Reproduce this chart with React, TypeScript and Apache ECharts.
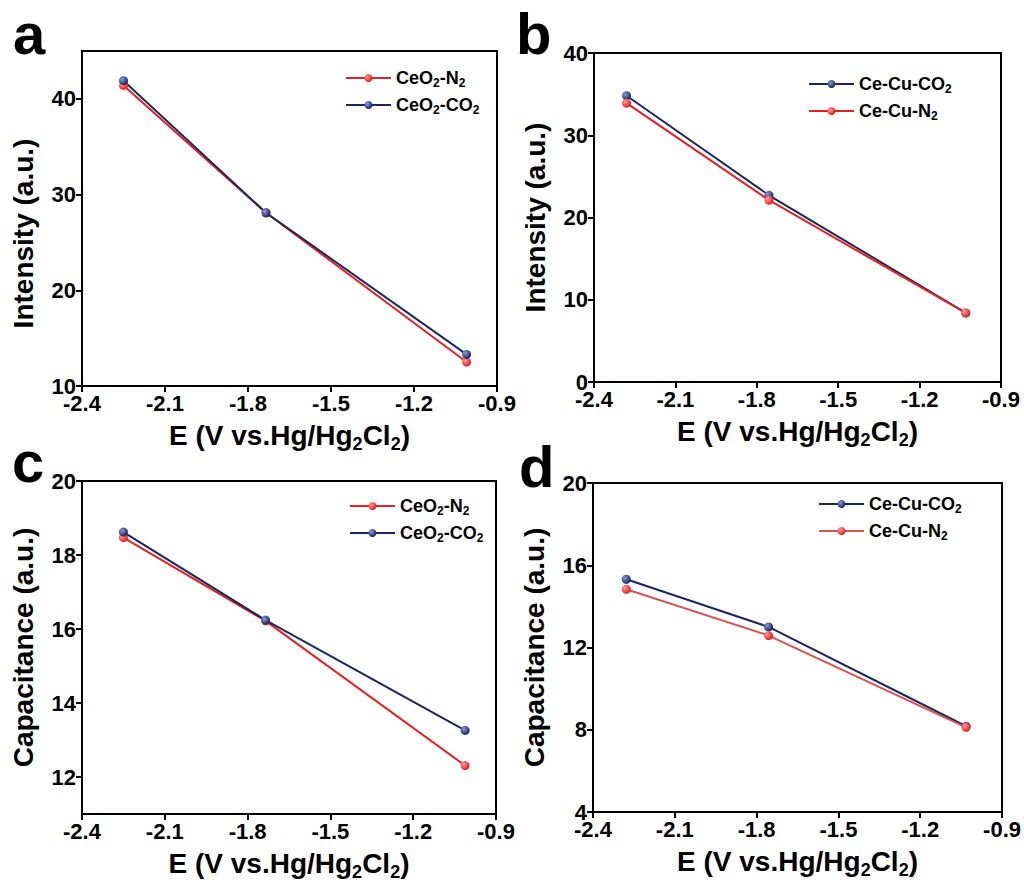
import React, { useEffect, useRef } from "react";
import * as echarts from "echarts";

// ---- data ----
const xTicks = [-2.4, -2.1, -1.8, -1.5, -1.2, -0.9];

const xA = [-2.25, -1.735, -1.01];
const aN2 = [41.4, 28.1, 12.5];
const aCO2 = [41.9, 28.1, 13.3];

const xB = [-2.28, -1.755, -1.03];
const bCO2 = [34.8, 22.7, 8.4];
const bN2 = [33.9, 22.1, 8.4];

const xC = [-2.25, -1.735, -1.012];
const cN2 = [18.47, 16.22, 12.31];
const cCO2 = [18.62, 16.24, 13.26];

const xD = [-2.278, -1.756, -1.032];
const dCO2 = [15.32, 13.0, 8.17];
const dN2 = [14.83, 12.58, 8.12];

const yTicksA = [10, 20, 30, 40];
const yTicksB = [0, 10, 20, 30, 40];
const yTicksC = [12, 14, 16, 18, 20];
const yTicksD = [4, 8, 12, 16, 20];

const panelLetters = ["a", "b", "c", "d"];
const xTitle = "E (V vs.Hg/Hg{s|2}Cl{s|2})";
const yTitleTop = "Intensity (a.u.)";
const yTitleBottom = "Capacitance (a.u.)";

const RED = "#e3211f";
const RED_LIGHT = "#d8524f";
const NAVY = "#1a2660";
const FONT = "'Liberation Sans', Arial, sans-serif";

function sphere(base: string, light: string) {
  return new echarts.graphic.RadialGradient(0.35, 0.35, 0.65, [
    { offset: 0, color: light },
    { offset: 1, color: base },
  ]);
}

function pairs(xs: number[], ys: number[]) {
  return xs.map((x, i) => [x, ys[i]]);
}

function sub(name: string) {
  return name.replace(/([A-Za-z])2/g, "$1{s|2}");
}

export default function App() {
  const ref = useRef<HTMLDivElement>(null);
  useEffect(() => {
    if (!ref.current) return;
    const chart = echarts.init(ref.current, null, { renderer: "svg" });

    const grids = [
      { left: 82, top: 51, width: 415, height: 335 },
      { left: 594, top: 53, width: 407, height: 329 },
      { left: 82, top: 481, width: 414, height: 333 },
      { left: 593, top: 483, width: 410, height: 329 },
    ];

    const yCfg = [
      { min: 10, max: 45, ticks: yTicksA, name: yTitleTop, pad: [0, 30, 0, 0] },
      { min: 0, max: 40, ticks: yTicksB, name: yTitleTop, pad: [0, 0, 0, 0] },
      { min: 11, max: 20, ticks: yTicksC, name: yTitleBottom, pad: [0, 0, 0, 0] },
      { min: 4, max: 20, ticks: yTicksD, name: yTitleBottom, pad: [0, 0, 0, 0] },
    ];

    const axisLine = { show: true, lineStyle: { color: "#000", width: 2 } };
    const axisTick = {
      show: true,
      inside: false,
      length: 6,
      lineStyle: { color: "#000", width: 2 },
    };
    const labelStyle = {
      color: "#000",
      fontFamily: FONT,
      fontWeight: "bold",
      fontSize: 22,
    };

    const xAxis = grids.map((_, i) => ({
      type: "value",
      gridIndex: i,
      min: -2.4,
      max: -0.9,
      axisLine,
      axisTick: { ...axisTick, customValues: xTicks },
      axisLabel: {
        ...labelStyle,
        margin: 6,
        customValues: xTicks,
        formatter: (v: number) => v.toFixed(1),
      },
      splitLine: { show: false },
      name: xTitle,
      nameLocation: "middle",
      nameGap: 31,
      nameTextStyle: {
        color: "#000",
        fontFamily: FONT,
        fontWeight: "bold",
        fontSize: 28,
        lineHeight: 36,
        rich: {
          s: {
            fontSize: 18,
            lineHeight: 18,
            verticalAlign: "bottom",
            fontFamily: FONT,
            fontWeight: "bold",
            color: "#000",
          },
        },
      },
    }));

    const yAxis = yCfg.map((c, i) => ({
      type: "value",
      gridIndex: i,
      min: c.min,
      max: c.max,
      axisLine,
      axisTick: { ...axisTick, customValues: c.ticks },
      axisLabel: { ...labelStyle, margin: 6, customValues: c.ticks },
      splitLine: { show: false },
      name: c.name,
      nameLocation: "middle",
      nameRotate: 90,
      nameGap: 45,
      nameTextStyle: {
        color: "#000",
        fontFamily: FONT,
        fontWeight: "bold",
        fontSize: 28,
        padding: c.pad,
      },
    }));

    const mk = (
      name: string,
      idx: number,
      xs: number[],
      ys: number[],
      line: string,
      dot: string,
      light: string
    ) => ({
      type: "line",
      name,
      xAxisIndex: idx,
      yAxisIndex: idx,
      data: pairs(xs, ys),
      symbol: "circle",
      symbolSize: 9,
      lineStyle: { color: line, width: 2 },
      itemStyle: { color: sphere(dot, light) },
      emphasis: { disabled: true },
    });

    const series = [
      mk("CeO2-N2", 0, xA, aN2, RED, RED, "#ff9c9c"),
      mk("CeO2-CO2", 0, xA, aCO2, NAVY, NAVY, "#8a9ad8"),
      mk("Ce-Cu-CO2", 1, xB, bCO2, NAVY, NAVY, "#8a9ad8"),
      mk("Ce-Cu-N2", 1, xB, bN2, RED, RED, "#ff9c9c"),
      mk("CeO2-N2", 2, xC, cN2, RED, RED, "#ff9c9c"),
      mk("CeO2-CO2", 2, xC, cCO2, NAVY, NAVY, "#8a9ad8"),
      mk("Ce-Cu-CO2", 3, xD, dCO2, NAVY, NAVY, "#8a9ad8"),
      mk("Ce-Cu-N2", 3, xD, dN2, RED_LIGHT, RED, "#ff9c9c"),
    ];

    const legendItem = (name: string, line: string, dot: string, light: string) => ({
      name,
      itemStyle: { color: sphere(dot, light) },
      lineStyle: { color: line, width: 2 },
    });

    const legendBase = {
      orient: "vertical",
      padding: 0,
      itemGap: 5,
      itemWidth: 45,
      itemHeight: 10,
      selectedMode: false,
      formatter: (n: string) => sub(n),
      textStyle: {
        color: "#000",
        fontFamily: FONT,
        fontWeight: "bold",
        fontSize: 18,
        lineHeight: 22,
        rich: {
          s: {
            fontSize: 12,
            lineHeight: 12,
            verticalAlign: "bottom",
            fontFamily: FONT,
            fontWeight: "bold",
            color: "#000",
          },
        },
      },
    };

    const legend = [
      {
        ...legendBase,
        left: 345,
        top: 67,
        data: [
          legendItem("CeO2-N2", RED, RED, "#ff9c9c"),
          legendItem("CeO2-CO2", NAVY, NAVY, "#8a9ad8"),
        ],
      },
      {
        ...legendBase,
        left: 808,
        top: 73,
        data: [
          legendItem("Ce-Cu-CO2", NAVY, NAVY, "#8a9ad8"),
          legendItem("Ce-Cu-N2", RED, RED, "#ff9c9c"),
        ],
      },
      {
        ...legendBase,
        left: 349,
        top: 495,
        data: [
          legendItem("CeO2-N2", RED, RED, "#ff9c9c"),
          legendItem("CeO2-CO2", NAVY, NAVY, "#8a9ad8"),
        ],
      },
      {
        ...legendBase,
        left: 818,
        top: 493,
        data: [
          legendItem("Ce-Cu-CO2", NAVY, NAVY, "#8a9ad8"),
          legendItem("Ce-Cu-N2", RED_LIGHT, RED, "#ff9c9c"),
        ],
      },
    ];

    const letterPos = [
      [13, 33],
      [516, 33],
      [12, 461],
      [519, 466],
    ];
    const graphic = panelLetters.map((t, i) => ({
      type: "text",
      x: letterPos[i][0],
      y: letterPos[i][1],
      style: {
        text: t,
        fill: "#000",
        font: `bold 58px ${FONT}`,
        verticalAlign: "middle",
      },
    }));

    chart.setOption({
      animation: false,
      backgroundColor: "#fff",
      grid: grids.map((g) => ({
        ...g,
        show: true,
        borderColor: "#000",
        borderWidth: 2,
        backgroundColor: "transparent",
      })),
      xAxis,
      yAxis,
      legend,
      series,
      graphic,
    });

    return () => chart.dispose();
  }, []);

  return (
    <div
      ref={ref}
      style={{ position: "absolute", left: 0, top: 0, width: 1024, height: 888 }}
    />
  );
}
